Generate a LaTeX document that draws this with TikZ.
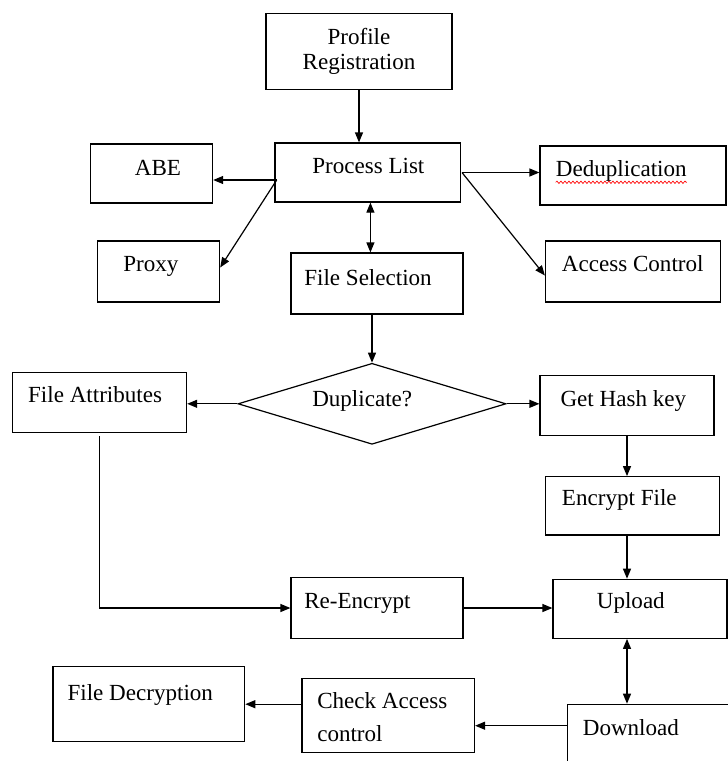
\documentclass[tikz,border=0pt]{standalone}
\usepackage{fontspec}
\setmainfont{Liberation Serif}
\newfontfamily\boxfont{Liberation Serif}
\usetikzlibrary{arrows.meta,shapes.geometric,fit,decorations.pathmorphing}
\tikzset{
  box/.style={draw, line width=0.9pt, inner sep=0pt},
  lbl/.style={anchor=base west, inner sep=0pt, font=\boxfont\fontsize{17.3}{19}\selectfont},
  arr/.style={line width=0.9pt, -{Triangle[length=7.5pt,width=6pt]}},
  dbl/.style={line width=0.9pt, {Triangle[length=7.5pt,width=6pt]}-{Triangle[length=7.5pt,width=6pt]}}
}
\begin{document}
\begin{tikzpicture}[x=0.75pt,y=-0.75pt] % une unite = un pixel, y vers le bas
\useasboundingbox (0,0) rectangle (728,761);
\clip (0,0) rectangle (728,761);
% les boites
\node[box, fit={(266,13.3) (452,89.3)}] (prof) {};
\node[box, fit={(275,143) (460.5,202)}] (plist) {};
\node[box, fit={(90.5,144) (212.6,203)}] (abe) {};
\node[box, fit={(97.5,241) (219.6,302)}] (proxy) {};
\node[box, fit={(291,253) (463,314)}] (fsel) {};
\node[box, fit={(540,146) (726,205)}] (dedup) {};
\node[box, fit={(545.5,241) (720.5,302)}] (acc) {};
\node[draw, line width=0.9pt, diamond, inner sep=0pt, minimum width=201pt, minimum height=60.75pt, shape aspect=3.3] (dup) at (372,403.8) {};
\node[box, fit={(12.5,372.3) (186.6,432.7)}] (fattr) {};
\node[box, fit={(540,375.7) (714,435.7)}] (hash) {};
\node[box, fit={(545.5,476.7) (719.6,535)}] (enc) {};
\node[box, fit={(291,577.7) (463,638.3)}] (reenc) {};
\node[box, fit={(553,579.3) (727,638.3)}] (upload) {};
\node[box, fit={(567.3,704.3) (790,800)}] (down) {}; % coupee par le bord
\node[box, fit={(302,678.3) (474.5,752.3)}] (check) {};
\node[box, fit={(53,666.7) (244.7,741.7)}] (fdec) {};
% les textes
\node[lbl, anchor=center, align=center] (prof-t) at (359,51.5) {Profile\\Registration};
\node[lbl] (plist-t) at (312,173) {Process List};
\node[lbl] (abe-t) at (134.6,175) {ABE};
\node[lbl] (proxy-t) at (123,271.7) {Proxy};
\node[lbl] (fsel-t) at (304,285) {File Selection};
\node[lbl] (dedup-t) at (555.7,176.7) {Deduplication};
\node[lbl] (acc-t) at (561.7,271.7) {Access Control};
\node[lbl] (dup-t) at (312,406) {Duplicate?};
\node[lbl] (fattr-t) at (27.9,402.7) {File Attributes};
\node[lbl] (hash-t) at (560.3,406) {Get Hash key};
\node[lbl] (enc-t) at (561.7,505) {Encrypt File};
\node[lbl] (reenc-t) at (304,608.3) {Re-Encrypt};
\node[lbl] (upload-t) at (596.6,608.3) {Upload};
\node[lbl] (down-t) at (582.6,735) {Download};
\node[lbl, anchor=north west, align=left] (check-t) at (317,692) {Check Access\\[6pt]control};
\node[lbl] (fdec-t) at (67.3,700) {File Decryption};
% soulignement rouge
\draw[red, line width=0.5pt, decorate, decoration={snake, amplitude=0.9pt, segment length=3pt}] ([yshift=-0.3pt]dedup-t.south west) -- ([yshift=-0.3pt]dedup-t.south east);
% les fleches
\coordinate (pl-w) at (276.7,180);
\coordinate (pl-e) at (462,172.5);
\coordinate (dl) at (567.3,725.7);
\draw[arr] (prof.south) -- (prof.south |- plist.north);
\draw[arr] (pl-w) -- (abe.east |- pl-w);
\draw[arr] (pl-w) -- ([yshift=3pt]proxy.east);
\draw[arr] (pl-e) -- (dedup.west |- pl-e);
\draw[arr] (pl-e) -- ([yshift=-3pt]acc.west);
\draw[dbl] ([xshift=2pt]plist.south) -- ([xshift=2pt]plist.south |- fsel.north);
\draw[arr] (dup.north |- fsel.south) -- (dup.north);
\draw[arr] (dup.west) -- (fattr.east |- dup.west);
\draw[arr] (dup.east) -- (hash.west |- dup.east);
\draw[arr] (hash.south) -- (hash.south |- enc.north);
\draw[arr] (hash.south |- enc.south) -- (hash.south |- upload.north);
\draw[arr] ([yshift=-2.3pt]fattr.south) |- (reenc.west);
\draw[arr] (reenc.east) -- (upload.west |- reenc.east);
\draw[dbl] (hash.south |- upload.south) -- (hash.south |- down.north);
\draw[arr] (dl) -- (check.east |- dl);
\draw[arr] (check.west |- fdec.east) -- (fdec.east);
\end{tikzpicture}
\end{document}
